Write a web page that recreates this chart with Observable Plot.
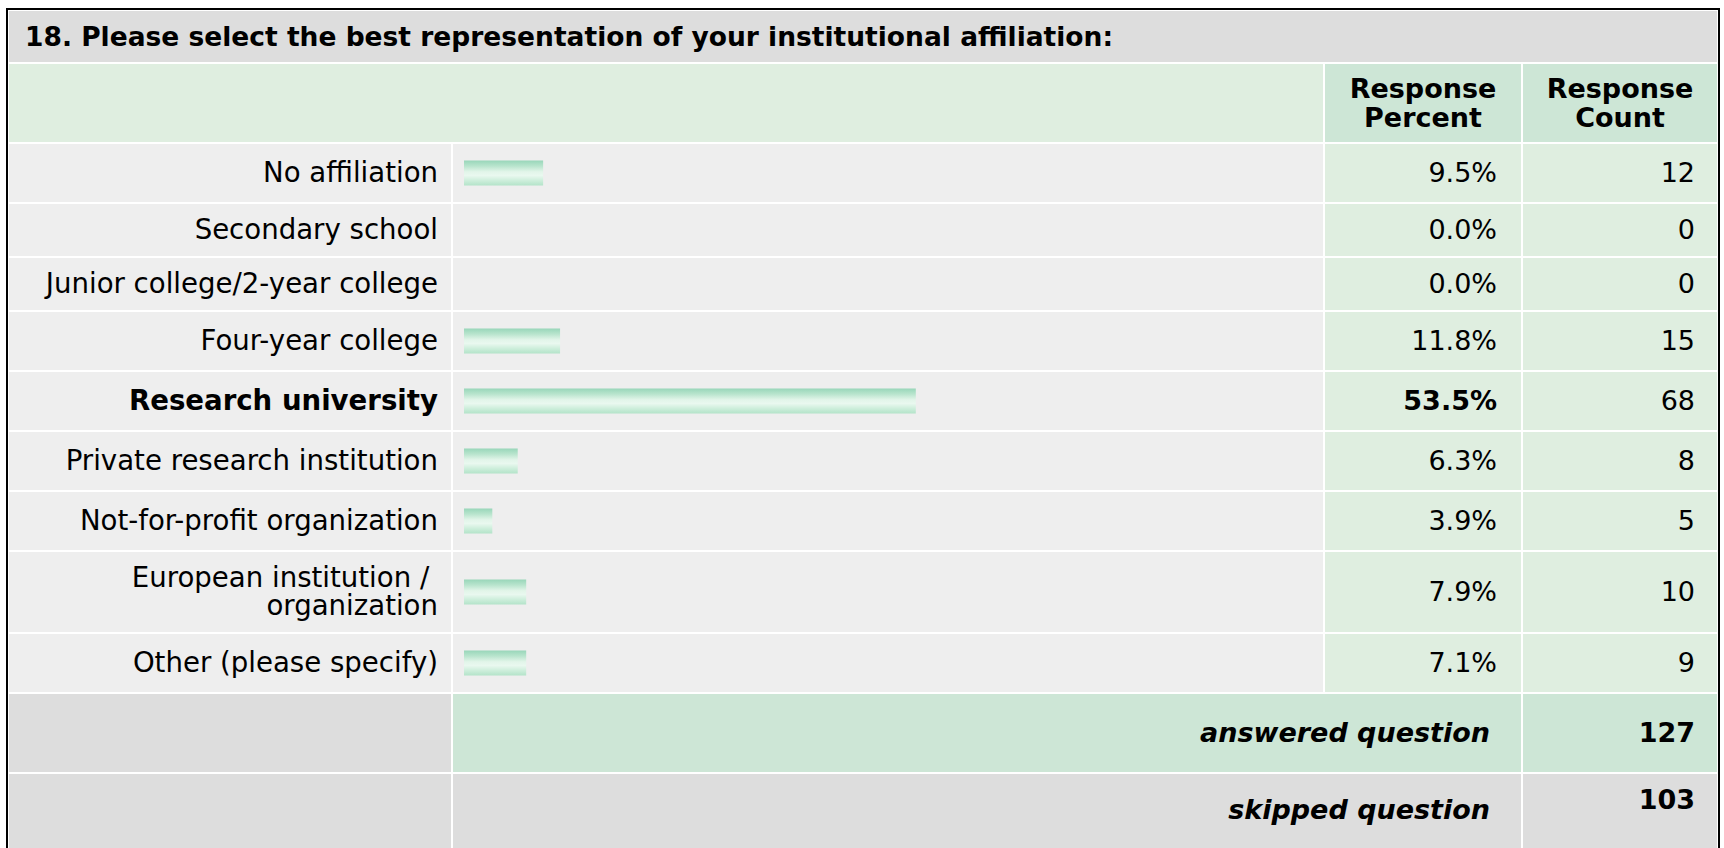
<!DOCTYPE html>
<html>
<head>
<meta charset="utf-8">
<script src="https://cdn.jsdelivr.net/npm/d3@7"></script>
<script src="https://cdn.jsdelivr.net/npm/@observablehq/plot@0.6"></script>
<style>
  html, body { margin: 0; padding: 0; background: #fff; }
  body { font-family: "DejaVu Sans", Verdana, sans-serif; color: #000; }
  #page { position: relative; width: 1724px; height: 848px; overflow: hidden; }
  .frame { position: absolute; left: 6px; top: 8px; width: 1714px; height: 900px;
           border: 2px solid #000; box-sizing: border-box; background: #fff; }
  .cell { position: absolute; box-sizing: border-box; display: flex; align-items: center;
          font-size: 27px; line-height: 28px; overflow: hidden; }
  .right { justify-content: flex-end; text-align: right; }
  .center { justify-content: center; text-align: center; }
  .bold { font-weight: bold; }
  .bi { font-weight: bold; font-style: italic; }
  .cell svg { display: block; }
</style>
</head>
<body>
<div id="page"></div>
<svg width="0" height="0" style="position:absolute">
  <defs>
    <linearGradient id="barGrad" x1="0" y1="0" x2="0" y2="1">
      <stop offset="0%" stop-color="#98d6b9"/>
      <stop offset="22%" stop-color="#b8e4cd"/>
      <stop offset="45%" stop-color="#e2f5e9"/>
      <stop offset="60%" stop-color="#e9f8ef"/>
      <stop offset="80%" stop-color="#cdeedb"/>
      <stop offset="100%" stop-color="#b3e3c9"/>
    </linearGradient>
  </defs>
</svg>
<script>
// ---- data ----
const title = "18. Please select the best representation of your institutional affiliation:";
const headerPercent = "Response Percent";
const headerCount = "Response Count";
const categories = [
  "No affiliation",
  "Secondary school",
  "Junior college/2-year college",
  "Four-year college",
  "Research university",
  "Private research institution",
  "Not-for-profit organization",
  "European institution / organization",
  "Other (please specify)"
];
const percents = [9.5, 0.0, 0.0, 11.8, 53.5, 6.3, 3.9, 7.9, 7.1];
const counts = [12, 0, 0, 15, 68, 8, 5, 10, 9];
const highlighted = ["Research university"];
const answeredLabel = "answered question";
const answeredCount = 127;
const skippedLabel = "skipped question";
const skippedCount = 103;

// ---- layout ----
const colLabel = [9, 451], colBar = [453, 1323], colPct = [1325, 1521], colCnt = [1523, 1717];
const gap = 2;
const titleH = 51, headerH = 78, answeredH = 78, skippedH = 90;
const dataRowH = [58, 52, 52, 58, 58, 58, 58, 80, 58];
const barThickness = 25;
const barStart = 464, barLead = 2.9, barPerPct = 8.47;
const C = {
  gray: "#dddddd", row: "#eeeeee", lightGreen: "#dfeee0", green: "#cde6d6"
};

const page = document.getElementById("page");
const frame = document.createElement("div");
frame.className = "frame";
page.appendChild(frame);

function cell(x0, x1, y, h, bg, cls, html, style) {
  const d = document.createElement("div");
  d.className = "cell " + (cls || "");
  d.style.left = x0 + "px";
  d.style.top = y + "px";
  d.style.width = (x1 - x0) + "px";
  d.style.height = h + "px";
  d.style.background = bg;
  if (style) Object.assign(d.style, style);
  if (html instanceof Node) d.appendChild(html);
  else if (html != null) d.textContent = html;
  page.appendChild(d);
  return d;
}

let y = 11;
// Title
cell(colLabel[0], colCnt[1], y, titleH, C.gray, "bold", title, {paddingLeft: "16px", fontSize: "26.5px"});
y += titleH + gap;

// Header
cell(colLabel[0], colBar[1], y, headerH, C.lightGreen, "");
function twoLine(s) {
  const parts = s.split(" ");
  const span = document.createElement("div");
  span.innerHTML = parts[0] + "<br>" + parts.slice(1).join(" ");
  return span;
}
const hdrStyle = {lineHeight: "29px", fontSize: "27px"};
cell(colPct[0], colPct[1], y, headerH, C.green, "bold center", twoLine(headerPercent), hdrStyle);
cell(colCnt[0], colCnt[1], y, headerH, C.green, "bold center", twoLine(headerCount), hdrStyle);
y += headerH + gap;

// x scale for the bars (percent; the survey tool draws whole-percent bar lengths)
const xRange = [barStart + barLead - colBar[0], barStart + barLead + 100 * barPerPct - colBar[0]];

categories.forEach((cat, i) => {
  const h = dataRowH[i];
  const isBold = highlighted.includes(cat);
  const lab = cell(colLabel[0], colLabel[1], y, h, C.row, "right" + (isBold ? " bold" : ""), null,
    {paddingRight: "13px", paddingLeft: "8px", fontSize: "27.6px"});
  const t = document.createElement("div");
  t.textContent = cat;
  t.style.whiteSpace = "break-spaces";
  lab.appendChild(t);

  const datum = [{category: cat, pct: percents[i]}].filter(d => d.pct > 0);
  const inset = (h - barThickness) / 2;
  const chart = Plot.plot({
    width: colBar[1] - colBar[0],
    height: h,
    margin: 0,
    x: {domain: [0, 100], range: xRange, axis: null},
    style: {background: "transparent", overflow: "visible"},
    marks: [
      Plot.barX(datum, {x: d => Math.floor(d.pct), fill: "url(#barGrad)",
        insetTop: inset, insetBottom: inset, insetLeft: -barLead})
    ]
  });
  cell(colBar[0], colBar[1], y, h, C.row, "", chart);

  cell(colPct[0], colPct[1], y, h, C.lightGreen, "right" + (isBold ? " bold" : ""),
    percents[i].toFixed(1) + "%", {paddingRight: "24px"});
  cell(colCnt[0], colCnt[1], y, h, C.lightGreen, "right", String(counts[i]), {paddingRight: "22px"});
  y += h + gap;
});

// answered
cell(colLabel[0], colLabel[1], y, answeredH, C.gray, "");
cell(colBar[0], colPct[1], y, answeredH, C.green, "right bi", answeredLabel, {paddingRight: "31px"});
cell(colCnt[0], colCnt[1], y, answeredH, C.green, "right bold", String(answeredCount), {paddingRight: "22px"});
y += answeredH + gap;

// skipped
cell(colLabel[0], colLabel[1], y, skippedH, C.gray, "");
cell(colBar[0], colPct[1], y, skippedH, C.gray, "right bi", skippedLabel,
  {paddingRight: "31px", alignItems: "flex-start", paddingTop: "22px"});
cell(colCnt[0], colCnt[1], y, skippedH, C.gray, "right bold", String(skippedCount),
  {paddingRight: "22px", alignItems: "flex-start", paddingTop: "12px"});
</script>
</body>
</html>
